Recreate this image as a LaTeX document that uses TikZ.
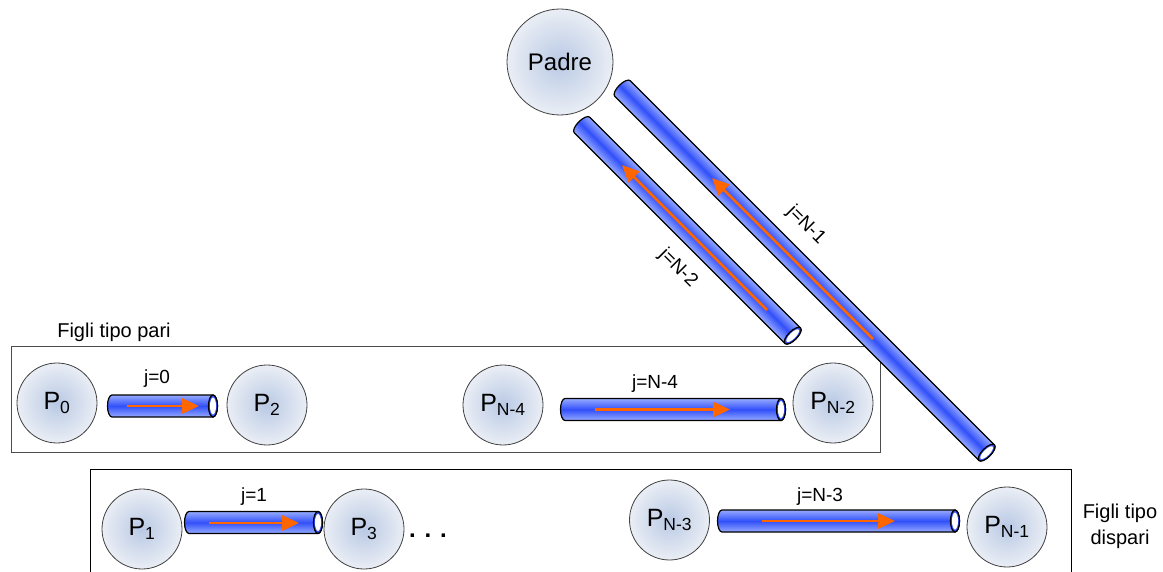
\documentclass[tikz,border=0pt]{standalone}
\usepackage{fontspec}
\setmainfont{Liberation Sans}
\usetikzlibrary{arrows.meta}
\definecolor{tuboblu}{RGB}{50,80,250}
\definecolor{tubochiaro}{RGB}{150,170,255}
\definecolor{freccia}{RGB}{255,102,0}
\definecolor{cerchiodentro}{RGB}{185,201,228}
\definecolor{cerchiofuori}{RGB}{234,238,245}
\tikzset{
  processo/.style={circle, draw=black!75, line width=0.8pt, inner color=cerchiodentro, outer color=cerchiofuori, minimum size=80pt, inner sep=0pt, font=\fontsize{25}{28}\selectfont},
  etichetta/.style={font=\fontsize{19}{22}\selectfont, inner sep=0pt},
  gruppo/.style={font=\fontsize{20}{26}\selectfont, inner sep=0pt, align=center},
  flusso/.style={draw=freccia, line width=2.8pt, -{Triangle[length=17pt,width=15pt]}},
  pics/tubo/.style={code={
    \shade[top color=tubochiaro, bottom color=tubochiaro, middle color=tuboblu, draw=black, line width=1.2pt]
      (0,-11) -- (#1,-11) arc[start angle=-90, end angle=90, x radius=4.5, y radius=11]
      -- (0,11) arc[start angle=90, end angle=270, x radius=4.5, y radius=11] -- cycle;
    \draw[fill=tuboblu, line width=1.2pt] (#1,0) ellipse[x radius=4.5, y radius=11];
    \fill[white] (#1,0) ellipse[x radius=3, y radius=8.5];
  }}
}
\begin{document}
\begin{tikzpicture}[x=1pt,y=-1pt]
\useasboundingbox (0,0) rectangle (1163,572);
% riquadri dei figli
\draw[line width=1pt, draw=black!70] (11,347) rectangle (880,452);
\draw[line width=1pt] (90,573) -- (90,469) -- (1071,469) -- (1071,573);
\node[gruppo] (pari) at (114,332) {Figli tipo pari};
\node[gruppo] (dispari) at (1120,526) {Figli tipo\\dispari};
% tubi
\pic at (112,406) {tubo=101};
\pic at (189,522.5) {tubo=129};
\pic at (565,409.5) {tubo=216};
\pic at (722,521) {tubo=233};
\begin{scope}[transform canvas={shift={(582,125)},rotate=-45}]
\pic at (0,0) {tubo=298};
\end{scope}
\begin{scope}[transform canvas={shift={(622.5,88.5)},rotate=-45}]
\pic at (0,0) {tubo=515};
\end{scope}
% frecce
\coordinate (a0) at (127,406);
\coordinate (b0) at (199,406);
\coordinate (a1) at (209,523);
\coordinate (b1) at (299,523);
\coordinate (aN4) at (595,409.5);
\coordinate (bN4) at (730,409.5);
\coordinate (aN3) at (762,521);
\coordinate (bN3) at (895,521);
\coordinate (aN2) at (767,310);
\coordinate (bN2) at (622,165);
\coordinate (aN1) at (873,339);
\coordinate (bN1) at (712,178);
\foreach \a/\b in {a0/b0,a1/b1,aN4/bN4,aN3/bN3,aN2/bN2,aN1/bN1}
	\draw[flusso] (\a) -- (\b);
% processi
\node[processo, minimum size=106pt, font=\fontsize{24}{27}\selectfont] (padre) at (560,62) {Padre};
\node[processo] (p0) at (57,403) {P\textsubscript{0}};
\node[processo] (p2) at (267,405) {P\textsubscript{2}};
\node[processo] (p1) at (142,529) {P\textsubscript{1}};
\node[processo] (p3) at (364,529) {P\textsubscript{3}};
\node[processo] (pN4) at (503,405) {P\textsubscript{N-4}};
\node[processo] (pN2) at (833,403) {P\textsubscript{N-2}};
\node[processo] (pN3) at (669.5,520) {P\textsubscript{N-3}};
\node[processo] (pN1) at (1007,527) {P\textsubscript{N-1}};
\node[font=\fontsize{24}{26}\selectfont\bfseries, anchor=base] (puntini) at (428,537) {. . .};
% etichette dei canali
\node[etichetta] (j0) at (157,379) {j=0};
\node[etichetta] (j1) at (254,497) {j=1};
\node[etichetta] (jN4) at (655,384) {j=N-4};
\node[etichetta] (jN3) at (820,497) {j=N-3};
\node[etichetta, rotate=-45] (jN2) at (678,268) {j=N-2};
\node[etichetta, rotate=-45] (jN1) at (806,225) {j=N-1};
\end{tikzpicture}
\end{document}
